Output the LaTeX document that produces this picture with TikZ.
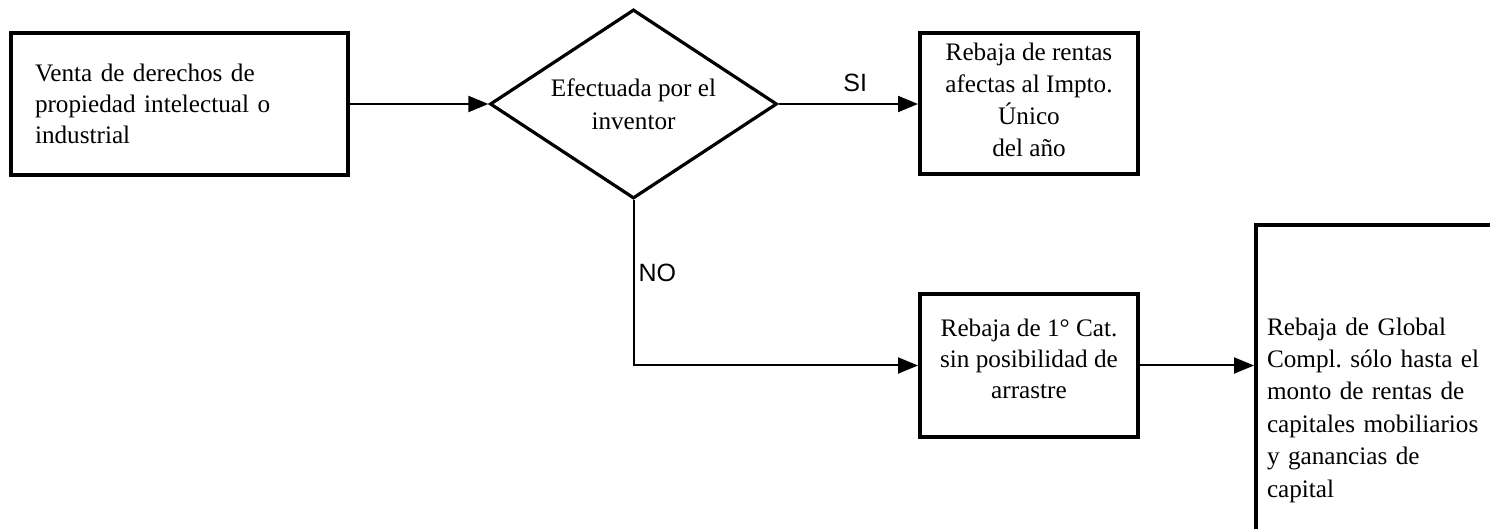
\documentclass[tikz,border=0pt]{standalone}
\usepackage{fontspec}
\setmainfont{Liberation Serif}
\newfontfamily\labelfont{Liberation Sans}
\usetikzlibrary{arrows.meta}
\usetikzlibrary{shapes.geometric}
\tikzset{>={Triangle[length=10pt,width=8pt]}}
\frenchspacing

\begin{document}
\begin{tikzpicture}[x=0.5pt, y=-0.5pt,
    box/.style={draw, line width=2pt, font=\fontsize{12.6}{15.5}\selectfont},
    decision/.style={draw, diamond, aspect=1.5, inner sep=0pt, line width=1.6pt,
      minimum width=143.5pt, minimum height=94.5pt, align=center,
      font=\fontsize{12.6}{16.5}\selectfont},
    flow/.style={->, line width=1pt},
    answer/.style={inner sep=0pt, font=\labelfont\fontsize{12.5}{15}\selectfont}]
    \useasboundingbox (0,0) rectangle (1490,529);
    \clip (0,0) rectangle (1490,529);

    \node[box, align=left, text width=144.5pt, inner xsep=12pt, minimum height=71pt]
      (venta) at (179.5,104) {Venta de derechos de\\ propiedad intelectual o\\ industrial};
    \node[decision] (efect) at (633.5,104) {Efectuada por el\\ inventor};
    \node[box, align=center, minimum width=109pt, minimum height=70.5pt, text depth=4pt,
      font=\fontsize{12.6}{16}\selectfont]
      (rentas) at (1029,104) {Rebaja de rentas\\ afectas al Impto.\\ Único\\ del año};
    \node[box, align=center, minimum width=109pt, minimum height=71.5pt, text depth=7pt]
      (cat) at (1029,365.5) {Rebaja de 1° Cat.\\ sin posibilidad de\\ arrastre};
    \node[box, anchor=north west, align=left, text width=142pt, inner xsep=5.5pt,
      minimum height=185pt, font=\fontsize{12.6}{16.2}\selectfont]
      (global) at (1254,223) {Rebaja de Global\\ Compl. sólo hasta el\\ monto de rentas de\\ capitales mobiliarios\\ y ganancias de\\ capital};

    \draw[flow] (venta) -- (efect);
    \draw[flow] (efect) -- node[answer, pos=0.55, above=5.5pt] (si) {SI} (rentas);
    \draw[flow] (efect.south) |- node[answer, pos=0.22, anchor=west, xshift=2pt] (no) {NO} (cat);
    \draw[flow] (cat) -- (cat.east -| global.west);
\end{tikzpicture}
\end{document}
